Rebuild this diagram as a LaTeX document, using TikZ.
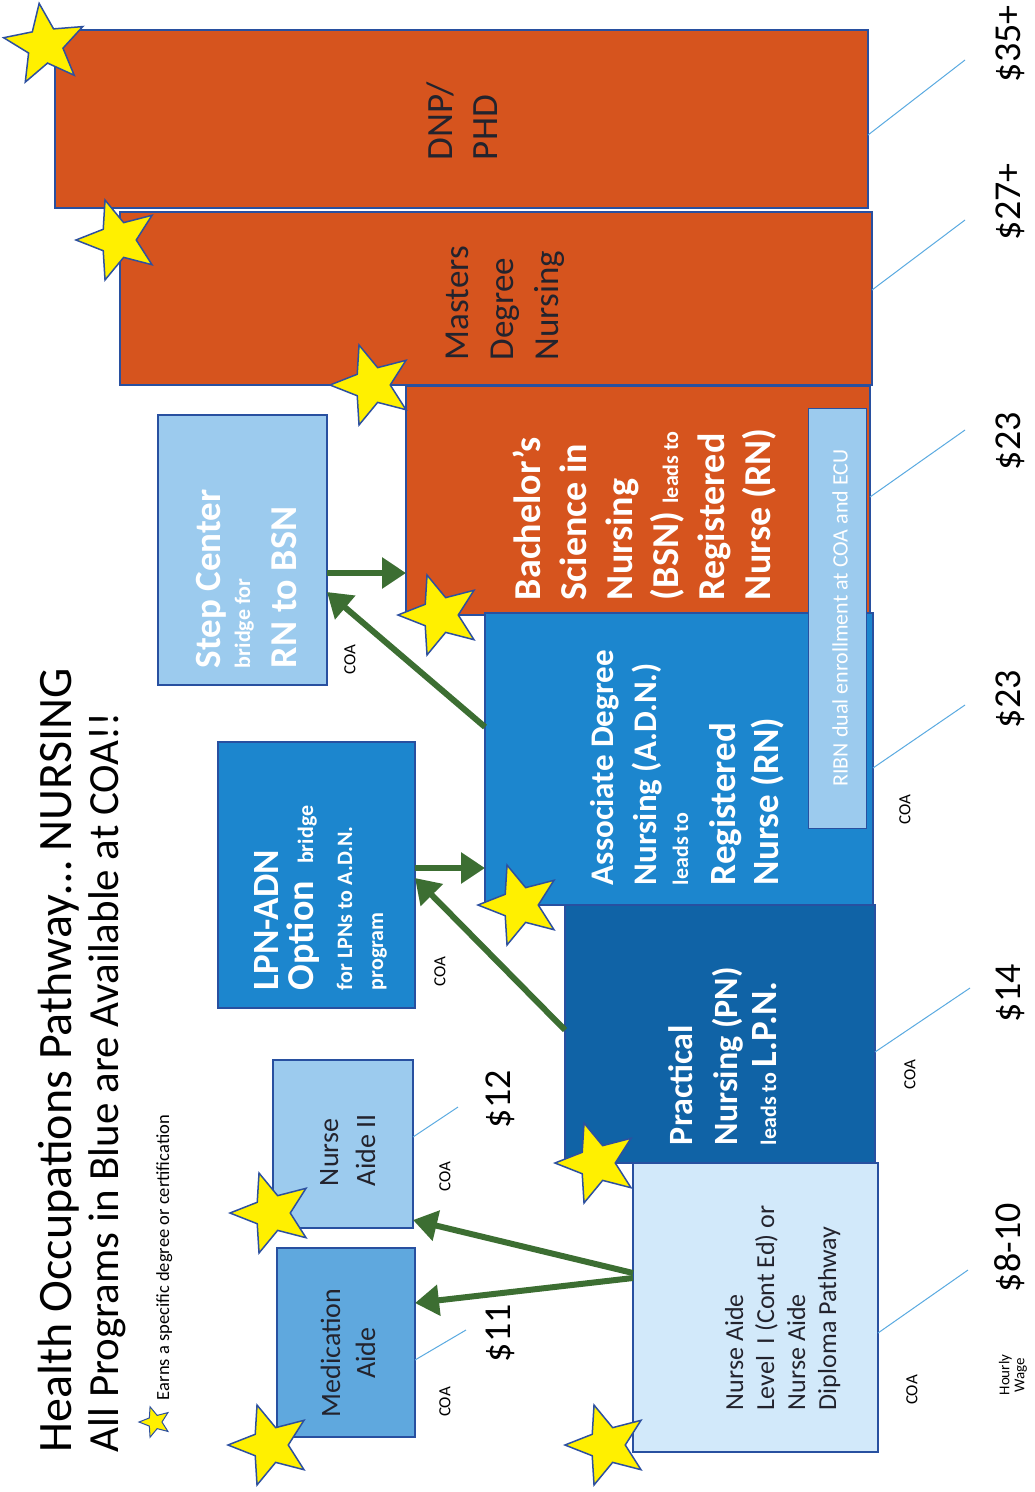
\documentclass[tikz,border=0pt]{standalone}
\usepackage{fontspec}
\setmainfont{Carlito}
\usetikzlibrary{shapes.geometric,arrows.meta}
\definecolor{orng}{RGB}{214,84,30}
\definecolor{bord}{RGB}{40,80,160}
\definecolor{adnblue}{RGB}{28,134,206}
\definecolor{pnblue}{RGB}{16,99,166}
\definecolor{ltblue}{RGB}{156,203,238}
\definecolor{medblue}{RGB}{95,168,222}
\definecolor{palblue}{RGB}{210,233,250}
\definecolor{agreen}{RGB}{60,110,50}
\definecolor{leadblue}{RGB}{90,170,225}
\definecolor{yel}{RGB}{255,240,0}
\definecolor{starblue}{RGB}{45,80,160}
\definecolor{darktxt}{RGB}{35,35,45}
\newcommand{\myfs}[1]{\fontsize{#1}{#1}\selectfont}
\begin{document}
\begin{tikzpicture}[x=1pt,y=-1pt,
  box/.style={draw=bord,line width=1.3pt,inner sep=0,outer sep=0},
  rt/.style={rotate=90,inner sep=0,outer sep=0,anchor=base west},
  wt/.style={rt,text=white,font=\bfseries},
  dk/.style={rt,text=darktxt},
  coa/.style={rotate=90,inner sep=0,font=\myfs{17}},
  wage/.style={rt,font=\myfs{38}},
  arr/.style={draw=agreen,line width=6pt,-{Triangle[length=24pt,width=30pt]}},
  lead/.style={draw=leadblue,line width=1pt},
  ystar/.style={star,star points=5,star point ratio=2.3,fill=yel,draw=starblue,line width=1.5pt,rotate=90,minimum size=84,inner sep=0}]
\useasboundingbox[fill=white] (0,0) rectangle (1035,1492);

% title and legend
\node[rt,font=\myfs{48}] (t1) at (71,1452) {Health Occupations Pathway… NURSING};
\node[rt,font=\myfs{43}] (t2) at (118,1452) {All Programs in Blue are Available at COA!!};
\node[ystar,minimum size=32,line width=1pt] (lstar) at (155,1422) {};
\node[rt,font=\myfs{18.5}] (legend) at (169,1400) {Earns a specific degree or certification};

% boxes
\node[box,fill=orng,minimum width=813,minimum height=178] (dnp) at (461.5,119) {};
\node[box,fill=orng,minimum width=752,minimum height=173] (mas) at (496,298.5) {};
\node[box,fill=orng,minimum width=464,minimum height=229] (bsn) at (638,500.5) {};
\node[box,fill=adnblue,minimum width=388,minimum height=292] (adn) at (679,759) {};
\node[box,fill=pnblue,minimum width=310,minimum height=258] (pn) at (720,1034) {};
\node[box,fill=palblue,minimum width=245,minimum height=289] (na1) at (755.5,1307.5) {};
\node[box,fill=ltblue,minimum width=58,minimum height=420,line width=1pt] (ribn) at (837,618) {};
\node[box,fill=medblue,minimum width=138,minimum height=189] (med) at (346,1342.5) {};
\node[box,fill=ltblue,minimum width=140,minimum height=168] (na2) at (343,1144) {};
\node[box,fill=adnblue,minimum width=197,minimum height=266] (lpn) at (316.5,875) {};
\node[box,fill=ltblue,minimum width=169,minimum height=270] (step) at (242.5,550) {};

% texts
\node[dk,font=\myfs{37}] (dnp1) at (452,160) {DNP/};
\node[dk,font=\myfs{37}] (dnp2) at (497,160) {PHD};
\node[dk,font=\myfs{35}] (mas1) at (468,360) {Masters};
\node[dk,font=\myfs{35}] (mas2) at (513,360) {Degree};
\node[dk,font=\myfs{35}] (mas3) at (558,360) {Nursing};

\node[wt,font=\myfs{38}\bfseries] (b1) at (540,600) {Bachelor’s};
\node[wt,font=\myfs{38}\bfseries] (b2) at (586,600) {Science in};
\node[wt,font=\myfs{38}\bfseries] (b3) at (632,600) {Nursing};
\node[wt,font=\myfs{38}\bfseries] (b4) at (678,600) {(BSN) {\myfs{22}leads to}};
\node[wt,font=\myfs{38}\bfseries] (b5) at (724,600) {Registered};
\node[wt,font=\myfs{38}\bfseries] (b6) at (770,600) {Nurse (RN)};
\node[rotate=90,inner sep=0,text=white,font=\myfs{22}] (ribnt) at (840,618) {RIBN dual enrollment at COA and ECU};

\node[wt,font=\myfs{33}\bfseries] (a1) at (613,885) {Associate Degree};
\node[wt,font=\myfs{33}\bfseries] (a2) at (656,885) {Nursing (A.D.N.)};
\node[wt,font=\myfs{22}\bfseries] (a3) at (688,885) {leads to};
\node[wt,font=\myfs{37}\bfseries] (a4) at (735,885) {Registered};
\node[wt,font=\myfs{37}\bfseries] (a5) at (778,885) {Nurse (RN)};

\node[wt,font=\myfs{34}\bfseries] (p1) at (692,1145) {Practical};
\node[wt,font=\myfs{34}\bfseries] (p2) at (737,1145) {Nursing (PN)};
\node[wt,font=\myfs{22}\bfseries] (p3) at (776,1145) {leads to {\myfs{37}L.P.N.}};

\node[dk,font=\myfs{26}] (n1) at (743,1410) {Nurse Aide};
\node[dk,font=\myfs{26}] (n2) at (774,1410) {Level\ \ I (Cont Ed) or};
\node[dk,font=\myfs{26}] (n3) at (805,1410) {Nurse Aide};
\node[dk,font=\myfs{26}] (n4) at (836,1410) {Diploma Pathway};

\node[dk,anchor=base,font=\myfs{28}] (m1) at (340,1353) {Medication};
\node[dk,anchor=base,font=\myfs{28}] (m2) at (375,1353) {Aide};
\node[dk,font=\myfs{28}] (q1) at (338,1186) {Nurse};
\node[dk,font=\myfs{28}] (q2) at (375,1186) {Aide II};

\node[wt,font=\myfs{37}\bfseries] (l1) at (278,990) {LPN-ADN};
\node[wt,font=\myfs{38}\bfseries] (l2) at (313,990) {Option\ \ {\myfs{22}bridge}};
\node[wt,font=\myfs{22}\bfseries] (l3) at (352,990) {for LPNs to A.D.N.};
\node[wt,font=\myfs{22}\bfseries] (l4) at (383,990) {program};

\node[wt,font=\myfs{37}\bfseries] (s1) at (220,668) {Step Center};
\node[wt,font=\myfs{22}\bfseries] (s2) at (250,668) {bridge for};
\node[wt,font=\myfs{38}\bfseries] (s3) at (296,668) {RN to BSN};

% COA labels
\node[coa] (c1) at (350,660) {COA};
\node[coa] (c2) at (440,972) {COA};
\node[coa] (c3) at (445,1177) {COA};
\node[coa] (c4) at (445,1402) {COA};
\node[coa] (c5) at (905,810) {COA};
\node[coa] (c6) at (910,1075) {COA};
\node[coa] (c7) at (912,1390) {COA};

% wages
\node[wage] (w1) at (1020,82) {\$35+};
\node[wage] (w2) at (1020,240) {\$27+};
\node[wage] (w3) at (1020,470) {\$23};
\node[wage] (w4) at (1020,728) {\$23};
\node[wage] (w5) at (1020,1022) {\$14};
\node[wage] (w6) at (1020,1292) {\$8-10};
\node[wage] (w7) at (510,1128) {\$12};
\node[wage] (w8) at (510,1362) {\$11};
\node[rotate=90,inner sep=0,align=center,font=\myfs{15}] (hw) at (1013,1375) {Hourly\\Wage};

% leader lines
\coordinate (e1) at (965,60);
\coordinate (e2) at (965,220);
\coordinate (e3) at (965,430);
\coordinate (e4) at (965,705);
\coordinate (e5) at (970,988);
\coordinate (e6) at (968,1270);
\coordinate (e7) at (458,1107);
\coordinate (e8) at (466,1330);
\draw[lead] (dnp.east |- 0,135) -- (e1);
\draw[lead] (mas.east |- 0,290) -- (e2);
\draw[lead] (bsn.east |- 0,497) -- (e3);
\draw[lead] (adn.east |- 0,768) -- (e4);
\draw[lead] (pn.east |- 0,1052) -- (e5);
\draw[lead] (na1.east |- 0,1333) -- (e6);
\draw[lead] (na2.east |- 0,1137) -- (e7);
\draw[lead] (med.east |- 0,1360) -- (e8);

% arrows
\draw[arr] (na1.west |- 0,1273) -- (na2.east |- 0,1220);
\draw[arr] (na1.west |- 0,1278) -- (med.east |- 0,1303);
\draw[arr] (pn.west |- 0,1030) -- (lpn.east |- 0,878);
\draw[arr] (lpn.east |- 0,868) -- (adn.west |- 0,868);
\draw[arr] (adn.west |- 0,727) -- (step.east |- 0,592);
\draw[arr] (step.east |- 0,573) -- (bsn.west |- 0,573);

% stars
\node[ystar,rotate=-10] (st1) at (45,45) {};
\node[ystar] (st2) at (118,240) {};
\node[ystar] (st3) at (372,385) {};
\node[ystar] (st4) at (440,615) {};
\node[ystar] (st5) at (520,905) {};
\node[ystar] (st6) at (597,1163) {};
\node[ystar] (st7) at (607,1445) {};
\node[ystar] (st8) at (272,1213) {};
\node[ystar] (st9) at (270,1445) {};
\end{tikzpicture}
\end{document}
